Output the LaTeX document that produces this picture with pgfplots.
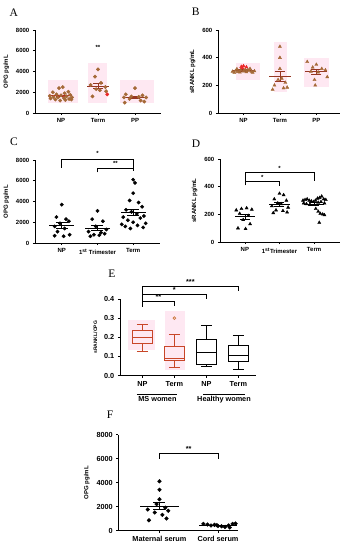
\documentclass[border=0pt]{standalone}
\usepackage{fontspec}
\setmainfont{Liberation Sans}
\newfontfamily\serif{Liberation Serif}
\usepackage{pgfplots}
\pgfplotsset{compat=1.18}
\usepgfplotslibrary{statistics}

\definecolor{dotbrown}{RGB}{165,105,55}
\definecolor{linebrown}{RGB}{150,55,35}
\definecolor{msred}{RGB}{200,70,40}
\definecolor{pinkbg}{RGB}{254,232,242}
\definecolor{hotred}{RGB}{235,40,40}
\definecolor{outl}{RGB}{205,120,60}

\newcommand{\fsm}{\bfseries\fontsize{6}{7}\selectfont}
\newcommand{\fbg}{\bfseries\fontsize{7.3}{8}\selectfont}

\pgfplotsset{
  prism/.style={
    scale only axis, anchor=south west,
    axis lines=left, axis line style={-, line width=0.7pt},
    tick style={black, line width=0.7pt},
    tick align=outside, major tick length=2.2pt,
    enlargelimits=false, clip=false, ymin=0,
    /pgf/number format/1000 sep={},
    /pgf/number format/assume math mode=true,
    tick label style={font=\fsm},
    label style={font=\fsm},
  },
  meanline/.style={mark=none, forget plot, line width=0.8pt,
    error bars/x dir=both, error bars/x fixed=#1, error bars/error mark=none,
    error bars/error bar style={line width=0.8pt}},
  sembar/.style={mark=none, forget plot, line width=0.8pt,
    error bars/y dir=both, error bars/y explicit,
    error bars/error bar style={line width=0.8pt},
    error bars/error mark options={rotate=90, mark size=#1, line width=0.8pt}},
  bracket/.style={black, line width=0.7pt, forget plot, mark=none},
}

\begin{document}
\begin{tikzpicture}
\path[use as bounding box] (0pt,0pt) rectangle (349pt,-550pt);

% ---------------- A
\node[font=\serif\fontsize{11.5}{12}\selectfont] at (13.7pt,-12.2pt) {A};
\begin{axis}[prism, at={(35pt,-113pt)}, width=126pt, height=83pt,
  xmin=-0.7, xmax=2.7, ymax=8000, xtick={0,1,2}, xticklabels={NP,Term,PP},
  ytick={0,2000,4000,6000,8000}, ylabel={OPG pg/mL}]
\fill[pinkbg] (axis cs:-0.35,960) rectangle (axis cs:0.45,3180);
\fill[pinkbg] (axis cs:0.73,960) rectangle (axis cs:1.24,4800);
\fill[pinkbg] (axis cs:1.6,960) rectangle (axis cs:2.5,3180);
\addplot[only marks, mark=*, mark size=1.7pt, dotbrown] coordinates {
(0.05,2500)(-0.05,2400)(-0.22,2000)(0.2,2050)(0.1,1900)(-0.12,1800)(0.25,1750)
(-0.3,1650)(0,1700)(0.15,1600)(-0.2,1550)(0.3,1500)(-0.08,1500)(0.08,1450)
(-0.28,1400)(0.22,1350)(-0.15,1300)(0.12,1250)(0.28,1300)(-0.02,1200)};
\addplot[only marks, mark=*, mark size=1.7pt, dotbrown] coordinates {
(1.0,4200)(0.92,3500)(1.08,2900)(0.8,2700)(1.2,2500)(0.95,2300)(1.05,2200)
(1.22,2100)(0.85,1600)};
\addplot[only marks, mark=*, mark size=1.7pt, hotred] coordinates {(1.25,1800)};
\addplot[only marks, mark=*, mark size=1.7pt, dotbrown] coordinates {
(2.0,2400)(1.75,1800)(2.2,1700)(1.9,1600)(2.1,1550)(1.7,1500)(2.3,1500)
(1.85,1350)(2.15,1200)(1.72,1000)(2.25,1100)};
\addplot[hotred!80!black, meanline=0.3] coordinates {(0,1660)};
\addplot[hotred!80!black, sembar=5pt] coordinates {(0,1660) +- (0,80)};
\addplot[linebrown, meanline=0.3] coordinates {(1,2580)};
\addplot[linebrown, sembar=5pt] coordinates {(1,2580) +- (0,250)};
\addplot[linebrown, meanline=0.3] coordinates {(2,1520)};
\addplot[linebrown, sembar=5pt] coordinates {(2,1520) +- (0,110)};
\node[font=\fsm] at (axis cs:1,6300) {**};
\end{axis}

% ---------------- B
\node[font=\serif\fontsize{11.5}{12}\selectfont] at (195.8pt,-12.2pt) {B};
\begin{axis}[prism, at={(218pt,-113pt)}, width=122pt, height=83pt,
  xmin=-0.7, xmax=2.65, ymax=600, xtick={0,1,2}, xticklabels={NP,Term,PP},
  ytick={0,200,400,600}, ylabel={sRANKL pg/mL}]
\fill[pinkbg] (axis cs:-0.2,240) rectangle (axis cs:0.45,360);
\fill[pinkbg] (axis cs:0.85,150) rectangle (axis cs:1.2,510);
\fill[pinkbg] (axis cs:1.65,190) rectangle (axis cs:2.35,400);
\addplot[only marks, mark=triangle*, mark size=1.8pt, dotbrown] coordinates {
(-0.3,300)(-0.22,305)(-0.15,298)(-0.08,310)(0,302)(0.08,296)(0.15,305)(0.22,300)
(0.3,303)(-0.25,292)(-0.1,295)(0.05,315)(0.12,312)(0.25,293)(-0.18,318)(0.18,320)};
\addplot[only marks, mark=triangle*, mark size=1.8pt, hotred] coordinates {
(0.0,340)(0.08,332)(-0.06,335)(-0.03,325)};
\addplot[only marks, mark=triangle*, mark size=1.8pt, dotbrown] coordinates {
(1.0,480)(1.0,400)(1.0,320)(1.05,250)(0.95,240)(1.15,220)(0.85,200)(1.2,185)
(0.8,170)(1.1,180)};
\addplot[only marks, mark=triangle*, mark size=1.8pt, dotbrown] coordinates {
(1.75,370)(2.0,350)(1.9,330)(2.15,320)(2.25,310)(1.85,300)(2.05,295)(2.3,260)
(1.95,240)(1.97,200)};
\addplot[linebrown, meanline=0.3] coordinates {(0,308)};
\addplot[linebrown, sembar=5pt] coordinates {(0,308) +- (0,4)};
\addplot[linebrown, meanline=0.3] coordinates {(1,265)};
\addplot[linebrown, sembar=5pt] coordinates {(1,265) +- (0,33)};
\addplot[linebrown, meanline=0.3] coordinates {(2,298)};
\addplot[linebrown, sembar=5pt] coordinates {(2,298) +- (0,16)};
\end{axis}

% ---------------- C
\node[font=\serif\fontsize{11.5}{12}\selectfont] at (14pt,-142pt) {C};
\begin{axis}[prism, at={(35pt,-243pt)}, width=125pt, height=83pt,
  xmin=-0.75, xmax=2.75, ymax=8000, xtick={0,1,2},
  xticklabels={NP,1\textsuperscript{st} Trimester,Term},
  ytick={0,2000,4000,6000,8000}, ylabel={OPG pg/mL}]
\addplot[only marks, mark=*, mark size=1.7pt, black] coordinates {
(0.0,3700)(-0.15,2500)(0.12,2300)(0.2,2100)(-0.05,1900)(-0.2,1600)(0.08,1400)
(-0.12,1100)(0.22,800)(-0.2,700)(0.05,650)};
\addplot[only marks, mark=*, mark size=1.7pt, black] coordinates {
(1.0,3100)(0.85,2300)(1.15,2100)(0.95,1600)(1.25,1300)(0.75,1100)(1.1,1000)
(1.2,900)(0.9,800)(1.05,750)(0.8,650)};
\addplot[only marks, mark=*, mark size=1.7pt, black] coordinates {
(2.0,6100)(2.05,5800)(2.0,4800)(1.9,4100)(2.15,3900)(2.25,3500)(1.8,3200)
(1.95,3000)(2.1,2800)(2.3,2600)(1.72,2500)(2.2,2400)(1.85,2200)(2.0,2000)
(2.35,1900)(1.68,1800)(2.12,1700)(1.78,1600)(2.28,1500)(1.92,1400)};
\addplot[black, meanline=0.35] coordinates {(0,1705)};
\addplot[black, sembar=6pt] coordinates {(0,1705) +- (0,280)};
\addplot[black, meanline=0.35] coordinates {(1,1420)};
\addplot[black, sembar=6pt] coordinates {(1,1420) +- (0,230)};
\addplot[black, meanline=0.35] coordinates {(2,2940)};
\addplot[black, sembar=6pt] coordinates {(2,2940) +- (0,310)};
\addplot[bracket] coordinates {(0,7230)(0,8070)(2,8070)(2,6900)};
\addplot[bracket] coordinates {(1,6800)(1,7230)(2,7230)};
\node[font=\fsm] at (axis cs:1,8600) {*};
\node[font=\fsm] at (axis cs:1.5,7650) {**};
\end{axis}

% ---------------- D
\node[font=\serif\fontsize{11.5}{12}\selectfont] at (196pt,-143.5pt) {D};
\begin{axis}[prism, at={(220pt,-242pt)}, width=120pt, height=83pt,
  xmin=-0.72, xmax=2.75, ymax=600, xtick={0,1,2},
  xticklabels={NP,1\textsuperscript{st}Trimester,Term},
  ytick={0,200,400,600}, ylabel={sRANKL pg/mL}]
\addplot[only marks, mark=triangle*, mark size=1.8pt, black] coordinates {
(-0.25,230)(-0.1,240)(0.05,245)(0.2,235)(-0.15,205)(0.1,190)(-0.05,160)
(0.15,130)(-0.2,100)(0.02,95)};
\addplot[only marks, mark=triangle*, mark size=1.8pt, black] coordinates {
(1.0,350)(1.12,340)(0.85,310)(1.2,300)(0.95,280)(1.05,275)(0.78,260)(1.25,250)
(0.9,230)(1.1,225)(1.22,215)(0.82,210)};
\addplot[only marks, mark=triangle*, mark size=1.8pt, black] coordinates {
(1.68,300)(1.74,305)(1.8,310)(1.86,300)(1.92,295)(1.98,290)(2.04,300)(2.1,315)
(2.16,320)(2.22,330)(2.28,310)(2.34,305)(1.7,280)(1.78,275)(1.88,270)(2.12,285)
(2.2,290)(2.3,280)(2.05,240)(2.12,220)(2.18,205)(2.25,200)(2.3,195)(2.15,140)};
\addplot[black, meanline=0.3] coordinates {(0,183)};
\addplot[black, sembar=5pt] coordinates {(0,183) +- (0,18)};
\addplot[black, meanline=0.3] coordinates {(1,270)};
\addplot[black, sembar=5pt] coordinates {(1,270) +- (0,14)};
\addplot[black, meanline=0.3] coordinates {(2,273)};
\addplot[black, sembar=5pt] coordinates {(2,273) +- (0,10)};
\addplot[bracket] coordinates {(0,410)(0,505)(2,505)(2,440)};
\addplot[bracket] coordinates {(0,435)(1,435)(1,405)};
\node[font=\fsm] at (axis cs:1,535) {*};
\node[font=\fsm] at (axis cs:0.5,465) {*};
\end{axis}

% ---------------- E
\node[font=\serif\fontsize{11.5}{12}\selectfont] at (112pt,-274pt) {E};
\begin{axis}[prism, at={(120pt,-375.5pt)}, width=136pt, height=76.5pt,
  xmin=0.3, xmax=4.55, ymax=0.4, xtick={1,2,3,4}, xticklabels={NP,Term,NP,Term},
  ytick={0,0.1,0.2,0.3,0.4},
  yticklabel style={/pgf/number format/fixed, /pgf/number format/fixed zerofill,
    /pgf/number format/precision=1},
  tick label style={font=\fbg}, ylabel={sRANKL/OPG},
  label style={font=\bfseries\fontsize{5}{6}\selectfont},
  boxplot/draw direction=y,
  boxplot/box extend=0.62, boxplot/whisker extend=0.34]
\fill[pinkbg] (axis cs:0.55,0.134) rectangle (axis cs:1.39,0.29);
\fill[pinkbg] (axis cs:1.71,0.028) rectangle (axis cs:2.33,0.336);
\addplot[msred, line width=0.8pt, boxplot prepared={draw position=1,
  lower whisker=0.125, lower quartile=0.168, median=0.200,
  upper quartile=0.234, upper whisker=0.268}, boxplot/draw direction=y] coordinates {};
\addplot[msred, line width=0.8pt, boxplot prepared={draw position=2,
  lower whisker=0.042, lower quartile=0.078, median=0.092,
  upper quartile=0.150, upper whisker=0.217}, boxplot/draw direction=y] coordinates {};
\addplot[black, line width=0.8pt, boxplot prepared={draw position=3,
  lower whisker=0.046, lower quartile=0.060, median=0.120,
  upper quartile=0.187, upper whisker=0.262}, boxplot/draw direction=y] coordinates {};
\addplot[black, line width=0.8pt, boxplot prepared={draw position=4,
  lower whisker=0.032, lower quartile=0.076, median=0.104,
  upper quartile=0.157, upper whisker=0.208}, boxplot/draw direction=y] coordinates {};
\addplot[only marks, mark=o, mark size=1.4pt, outl, line width=0.7pt] coordinates {(2,0.30)};
\addplot[bracket] coordinates {(1,0.36)(1,0.466)(4,0.466)(4,0.442)};
\addplot[bracket] coordinates {(1,0.425)(3,0.425)(3,0.40)};
\addplot[bracket] coordinates {(1,0.39)(2,0.39)(2,0.363)};
\node[font=\fbg] at (axis cs:2.5,0.49) {***};
\node[font=\fbg] at (axis cs:2,0.447) {*};
\node[font=\fbg] at (axis cs:1.5,0.41) {**};
\draw[line width=0.8pt] (axis cs:0.83,-0.097) -- (axis cs:2.08,-0.097);
\draw[line width=0.8pt] (axis cs:2.89,-0.097) -- (axis cs:4.2,-0.097);
\node[anchor=north, font=\fbg, inner sep=1pt] at (axis cs:1.47,-0.103) {MS women};
\node[anchor=north, font=\fbg, inner sep=1pt] at (axis cs:3.55,-0.103) {Healthy women};
\end{axis}

% ---------------- F
\node[font=\serif\fontsize{11.5}{12}\selectfont] at (110pt,-415pt) {F};
\begin{axis}[prism, at={(118.5pt,-530.5pt)}, width=120pt, height=96pt,
  xmin=-0.7, xmax=1.35, ymax=8000, xtick={0,1},
  xticklabels={Maternal serum,Cord serum},
  ytick={0,2000,4000,6000,8000}, ylabel={OPG pg/mL},
  tick label style={font=\fbg},
  label style={font=\bfseries\fontsize{6}{7}\selectfont}]
\addplot[only marks, mark=*, mark size=1.9pt, black] coordinates {
(0.0,4100)(0.0,3400)(0.0,2600)(-0.05,2200)(0.1,1900)(-0.2,1750)(0.15,1650)
(-0.08,1500)(0.05,1300)(0.12,1000)(-0.18,850)};
\addplot[only marks, mark=*, mark size=1.9pt, black] coordinates {
(0.75,550)(0.82,500)(0.88,420)(0.94,470)(1.0,380)(1.06,350)(1.12,300)(1.18,420)
(1.2,250)(1.25,550)(1.3,580)(0.98,450)};
\addplot[black, meanline=0.33] coordinates {(0,2020)};
\addplot[black, sembar=6pt] coordinates {(0,2020) +- (0,300)};
\addplot[black, meanline=0.33] coordinates {(1,435)};
\addplot[black, sembar=6pt] coordinates {(1,435) +- (0,30)};
\addplot[bracket] coordinates {(0,5980)(0,6400)(1,6400)(1,5980)};
\node[font=\fbg] at (axis cs:0.5,6800) {**};
\end{axis}
\end{tikzpicture}
\end{document}
